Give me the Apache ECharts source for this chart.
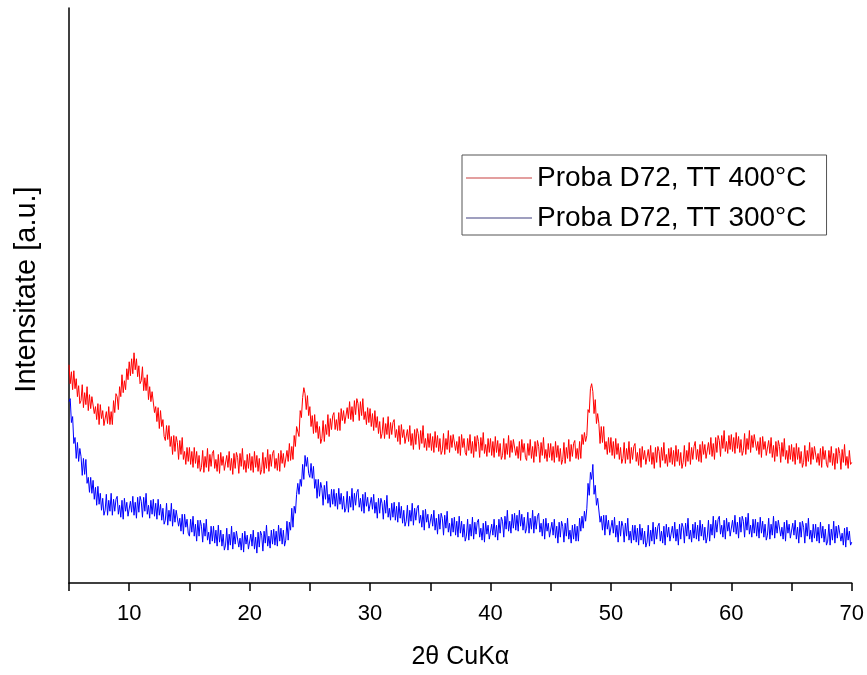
<!DOCTYPE html>
<html>
<head>
<meta charset="utf-8">
<script src="https://cdn.jsdelivr.net/npm/echarts@6/dist/echarts.min.js"></script>
<style>html,body{margin:0;padding:0;background:#fff}#c{width:867px;height:675px}</style>
</head>
<body>
<div id="c"></div>
<script>
// sampling grid of 2theta (degrees)
const xStart = 5;
const xStep = 0.1;
const xTicks = [10, 20, 30, 40, 50, 60, 70];
const seriesNames = ['Proba D72, TT 400\u00B0C', 'Proba D72, TT 300\u00B0C'];

// intensity readings (a.u.), one per 0.1 deg from 5.0 to 70.0 (10 per row = 1 degree)
const red400 = [
219,200,212,194,213,195,205,187,198,180,
183,199,176,191,179,197,173,189,175,187,
189,170,177,164,180,159,179,165,173,158,
156,172,160,177,159,172,159,183,171,190,
187,174,197,187,209,191,203,194,215,204,
222,208,225,210,231,214,225,207,218,200,
203,217,193,206,193,209,184,197,182,192,
192,171,177,162,176,155,173,157,164,147,
143,158,144,158,137,147,129,148,132,147,
141,124,143,129,146,124,132,119,136,122,
136,119,132,116,136,120,132,115,128,112,
116,133,111,127,116,135,112,129,117,130,
133,115,124,112,129,110,131,118,127,113,
111,128,116,132,113,125,109,130,115,131,
126,110,130,117,135,114,123,111,129,115,
130,113,127,111,132,116,128,112,125,109,
114,131,110,126,115,134,112,129,117,130,
133,115,125,113,130,112,133,120,130,116,
115,133,122,140,123,137,124,148,137,157,
157,147,173,166,186,196,190,174,188,168,
177,157,168,150,169,151,162,145,157,140,
145,163,142,159,149,169,147,165,154,168,
171,154,164,153,171,153,175,163,173,160,
158,176,165,182,164,177,162,183,169,185,
180,163,182,168,185,164,172,159,176,161,
175,157,170,153,173,156,167,150,162,145,
150,166,145,160,149,167,145,161,149,161,
164,146,154,142,158,139,159,146,154,140,
138,154,142,158,138,150,134,154,139,155,
150,134,153,140,158,136,145,133,150,136,
150,133,147,131,152,136,148,132,145,129,
133,150,129,145,134,153,131,148,136,149,
151,133,142,130,147,128,149,136,145,131,
128,145,133,149,130,142,126,147,132,148,
142,126,146,133,151,130,139,127,145,131,
145,128,142,126,147,131,143,127,140,124,
128,145,124,140,129,148,126,143,131,144,
146,128,137,125,142,123,144,131,140,126,
123,140,128,144,125,137,121,142,127,143,
137,121,141,128,146,125,134,122,140,126,
140,123,137,121,142,126,138,122,135,119,
124,141,120,136,125,144,122,139,127,140,
143,125,135,124,142,125,149,139,151,142,
148,174,171,195,200,192,170,184,160,170,
160,140,157,141,157,134,142,129,146,131,
146,128,142,125,145,129,140,124,136,120,
125,141,120,135,124,142,120,136,124,137,
140,122,131,118,135,116,137,124,133,119,
117,134,122,138,119,131,115,136,121,137,
132,116,136,123,141,120,129,117,135,121,
136,119,133,117,138,122,134,118,131,115,
121,138,117,133,122,141,119,136,124,137,
142,124,134,122,139,121,142,129,139,125,
123,141,129,146,127,140,124,146,131,148,
143,127,148,135,153,132,142,130,148,134,
149,132,146,130,151,135,147,131,144,128,
133,150,129,145,134,153,131,148,136,149,
151,133,142,129,146,126,147,134,142,128,
126,143,130,146,126,138,122,142,127,143,
137,121,141,127,145,124,133,120,138,124,
139,122,136,119,140,124,136,120,132,116,
121,138,117,133,122,141,119,136,124,137,
139,121,130,118,135,116,137,124,133,119,
116,133,121,137,118,130,114,135,120,136,
130,114,134,121,139,118,127,115,133,119,
121
];
const blue300 = [
182,185,161,167,140,146,125,141,122,135,
127,108,125,109,124,100,106,91,106,90,
103,84,96,78,97,79,90,73,85,68,
73,89,68,83,72,90,68,84,72,84,
87,69,78,66,83,64,85,72,81,67,
65,82,71,87,68,81,65,86,71,87,
82,66,86,72,90,69,78,65,83,69,
84,67,80,64,84,68,79,63,75,59,
63,80,58,73,62,80,57,74,61,73,
75,57,65,52,69,49,69,56,64,50,
47,64,51,67,47,59,42,63,47,63,
57,41,60,47,64,43,51,39,57,42,
57,40,53,37,58,41,53,37,49,33,
38,55,33,49,38,57,34,51,39,52,
54,36,45,33,50,31,52,39,48,34,
32,49,37,53,34,46,30,51,36,52,
48,32,52,40,58,37,47,35,53,39,
54,38,52,37,58,42,55,39,53,37,
43,62,43,61,53,75,56,77,70,89,
100,89,104,97,119,104,128,117,126,110,
106,120,105,117,95,104,85,104,87,101,
95,78,98,84,102,80,89,76,94,79,
94,77,90,74,95,79,90,74,87,71,
75,92,71,87,76,95,73,90,78,91,
94,76,85,72,89,70,91,77,86,72,
70,86,74,89,70,81,65,85,70,85,
80,64,83,70,88,66,75,63,80,66,
81,63,77,61,81,65,77,60,73,57,
62,78,57,73,62,80,58,75,63,75,
78,60,68,56,73,53,74,61,69,55,
53,69,57,73,53,65,49,69,54,70,
65,48,68,55,72,51,60,47,65,51,
66,48,62,46,67,50,62,46,59,42,
47,64,43,59,47,66,44,61,49,61,
64,46,55,43,60,41,62,49,58,44,
42,59,48,64,46,58,43,64,50,66,
62,46,67,54,73,52,62,50,69,55,
70,53,68,52,73,57,69,53,66,50,
55,71,50,65,54,73,50,67,54,67,
70,51,60,47,64,44,65,52,60,46,
44,61,48,64,45,57,40,61,46,62,
57,41,60,47,65,44,53,40,58,44,
59,42,57,42,65,52,67,55,72,62,
75,100,88,111,104,119,89,98,78,85,
83,61,67,53,68,48,68,54,63,48,
46,63,50,66,46,58,41,62,47,62,
57,41,60,47,65,43,52,40,58,43,
58,41,55,38,59,43,55,39,52,36,
41,58,37,53,42,61,39,56,44,57,
60,42,52,40,57,38,59,46,56,42,
40,57,45,61,42,54,38,59,44,60,
56,40,60,47,65,44,53,41,59,45,
61,44,58,42,63,47,59,43,56,40,
46,63,42,59,48,67,45,63,51,64,
67,49,58,46,63,44,65,52,61,47,
46,63,51,68,49,61,45,66,51,67,
62,46,66,53,70,49,58,46,64,50,
64,47,61,45,66,50,62,46,59,43,
48,65,44,59,48,67,45,62,50,63,
65,47,56,44,61,42,63,50,59,45,
43,60,48,63,44,56,40,61,46,62,
56,40,60,47,65,44,53,41,59,45,
59,42,56,40,61,45,57,41,54,38,
42,59,38,54,43,62,40,57,45,58,
60,42,50,38,55,36,56,43,52,38,
41
];

function pairs(arr) {
  return arr.map((v, i) => [+(xStart + i * xStep).toFixed(1), v]);
}

const font = "'Liberation Sans', Arial, sans-serif";
const chart = echarts.init(document.getElementById('c'), null, {renderer: 'canvas'});
chart.setOption({
  animation: false,
  backgroundColor: '#fff',
  grid: {left: 69, right: 14, top: 8, bottom: 90, containLabel: false},
  legend: {
    orient: 'vertical',
    left: 462, top: 155,
    backgroundColor: '#fff',
    borderColor: '#555', borderWidth: 1,
    padding: [9, 20, 3, 4],
    itemGap: 12,
    icon: 'rect',
    itemWidth: 66, itemHeight: 1,
    textStyle: {fontFamily: font, fontSize: 28, color: '#000'},
    data: seriesNames
  },
  xAxis: {
    type: 'value', min: 5, max: 70, interval: 5,
    name: '2\u03B8 CuK\u03B1', nameLocation: 'middle', nameGap: 62,
    nameTextStyle: {fontFamily: font, fontSize: 25, color: '#000'},
    axisLine: {show: true, onZero: false, lineStyle: {color: '#000', width: 1.5}},
    axisTick: {show: true, length: 8, lineStyle: {color: '#000', width: 1.5}},
    axisLabel: {
      fontFamily: font, fontSize: 22, color: '#000', margin: 20,
      formatter: v => (xTicks.indexOf(v) >= 0 ? String(v) : '')
    },
    splitLine: {show: false}
  },
  yAxis: {
    type: 'value', min: 0, max: 577,
    name: 'Intensitate [a.u.]', nameLocation: 'middle', nameGap: 28,
    nameTextStyle: {fontFamily: font, fontSize: 29, color: '#000', padding: [0, 0, 0, 12]},
    axisLine: {show: true, lineStyle: {color: '#000', width: 1.5}},
    axisTick: {show: false},
    axisLabel: {show: false},
    splitLine: {show: false}
  },
  series: [
    {name: seriesNames[0], type: 'line', data: pairs(red400), showSymbol: false, symbol: 'none',
     lineStyle: {color: '#ff0000', width: 1}, itemStyle: {color: '#c84040'}},
    {name: seriesNames[1], type: 'line', data: pairs(blue300), showSymbol: false, symbol: 'none',
     lineStyle: {color: '#0000ff', width: 1}, itemStyle: {color: '#404080'}}
  ]
});
</script>
</body>
</html>
